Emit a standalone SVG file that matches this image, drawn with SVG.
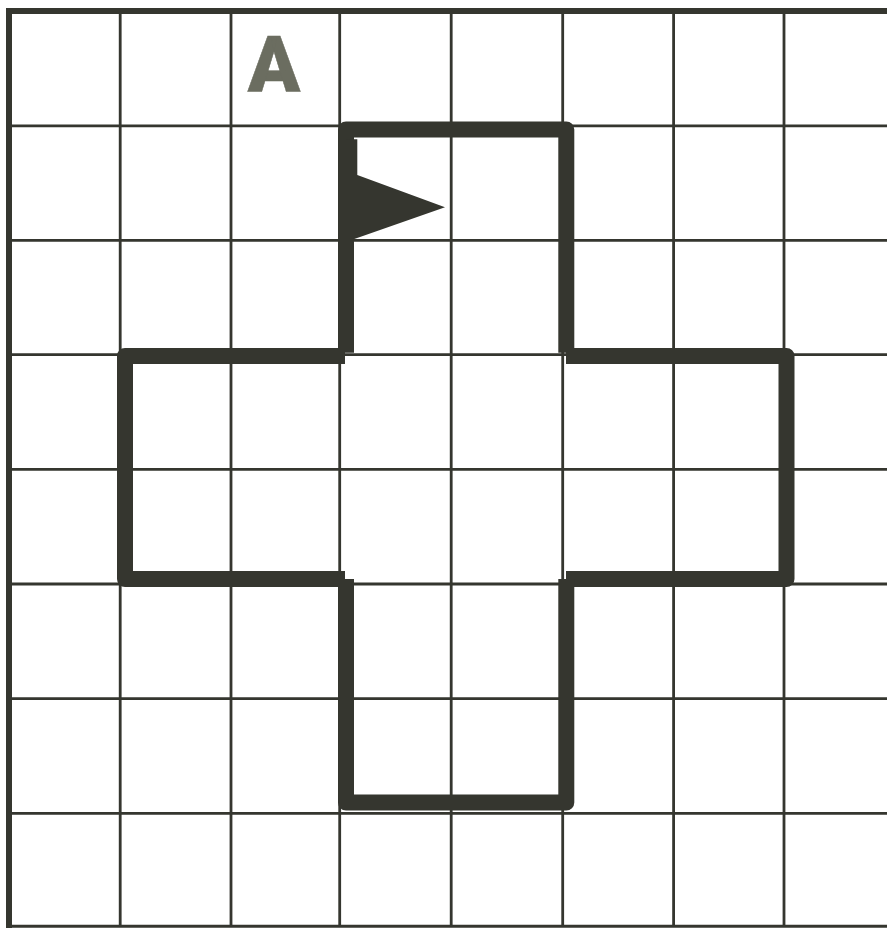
<svg xmlns="http://www.w3.org/2000/svg" width="887" height="928" viewBox="0 0 887 928">
<style>
.grid{fill:none;stroke:#35362f;stroke-width:2.8}
.frame{fill:none;stroke:#35362f;stroke-width:6}
.wall{fill:none;stroke:#35362f;stroke-width:16;stroke-linejoin:round;stroke-linecap:butt}
.label{font-family:Roboto,"Liberation Sans",sans-serif;font-weight:900;font-size:77px;fill:#6b6d60;stroke:#6b6d60;stroke-width:0.5}
</style>
<rect width="887" height="928" fill="#ffffff"/>
<g id="grid" class="grid">
<path d="M120.2 12V926M231 12V926M339.7 12V926M451.2 12V926M562.7 12V926M673.6 12V926M784 12V926"/>
<path d="M9 125.8H887M9 240.3H887M9 354.7H887M9 469.4H887M9 584H887M9 698.7H887M9 813.4H887"/>
</g>
<g id="frame">
<path class="frame" d="M9 928V11H887"/>
<path d="M6 926.3H887" fill="none" stroke="#35362f" stroke-width="3"/>
</g>
<g id="outline">
<path class="wall" d="M346 352.7V129.5H566.3V352.7"/>
<path class="wall" d="M345 356H125V579H345"/>
<path class="wall" d="M566 356H786.5V579H566"/>
<path class="wall" d="M346 579V802.5H566.3V579"/>
</g>
<g id="flag"><path fill="#35362f" d="M346 139.3H357.3V175L445 207.3L354.3 239H346Z"/></g>
<g id="label-a"><text class="label" x="274" y="91" text-anchor="middle">A</text></g>
</svg>
